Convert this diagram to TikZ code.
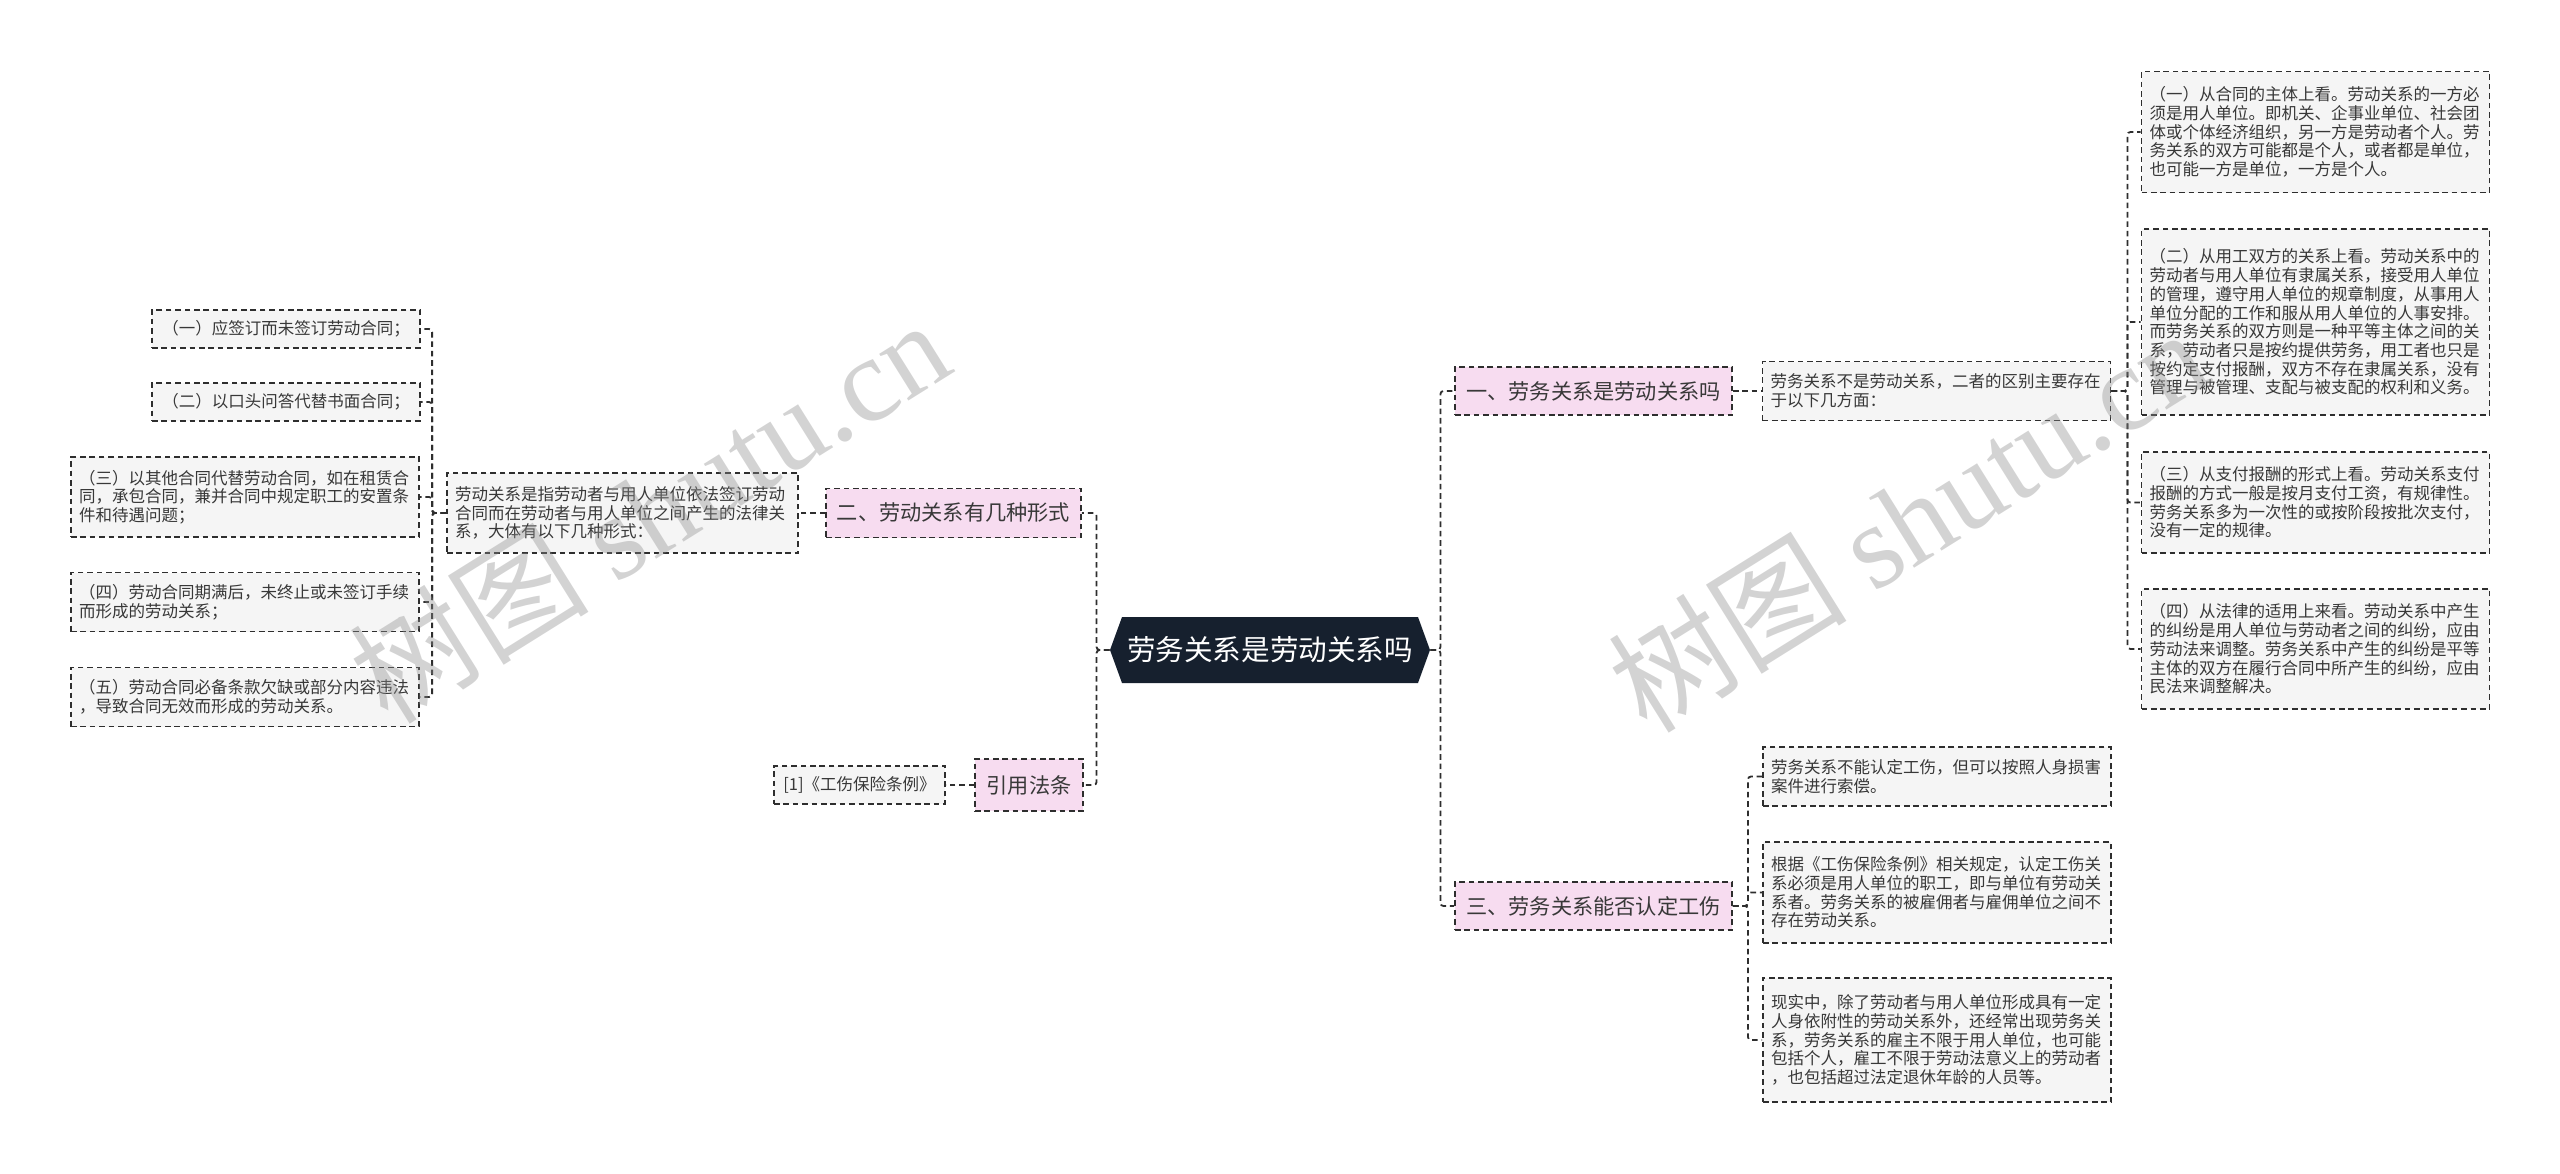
\documentclass[tikz,border=0pt]{standalone}
\usepackage{fontspec}
\setmainfont{Noto Sans CJK SC}
\newfontfamily\marklatin{Liberation Serif}
\usetikzlibrary{shapes.symbols}

\definecolor{rootnavy}{HTML}{16202E}
\definecolor{topicpink}{HTML}{F7DCF0}
\definecolor{leafgray}{HTML}{F5F5F5}
\definecolor{linegray}{HTML}{2E2E2E}
\definecolor{inkgray}{HTML}{383838}
\definecolor{markgray}{HTML}{8C8C8C}

\tikzset{
  dashbox/.style={draw=linegray, line width=0.9pt, dash pattern=on 2.8pt off 1.9pt},
  rootbox/.style={shape=signal, signal to=west and east, signal pointer angle=140, fill=rootnavy, text=white, font=\fontsize{14.3pt}{16pt}\selectfont, minimum width=160pt, minimum height=33pt, inner sep=0pt},
  topic/.style={dashbox, fill=topicpink, text=inkgray, font=\fontsize{10.6pt}{12pt}\selectfont, minimum height=24pt, inner sep=0pt},
  leaf/.style={dashbox, fill=leafgray, text=inkgray, font=\fontsize{8.25pt}{9.35pt}\selectfont, text width=166pt, align=left, inner xsep=4pt, inner ysep=0pt},
  smallleaf/.style={dashbox, fill=leafgray, text=inkgray, font=\fontsize{8.25pt}{9.35pt}\selectfont, minimum height=19pt, inner sep=0pt},
  mapline/.style={draw=linegray, line width=0.9pt, dash pattern=on 2.8pt off 1.9pt, rounded corners=1.5pt},
  watermark/.style={text=markgray, text opacity=0.38, font=\fontsize{60pt}{60pt}\selectfont, inner sep=0pt, rotate=32}
}

\begin{document}
\begin{tikzpicture}[x=0.5pt, y=-0.5pt]
\useasboundingbox (0,0) rectangle (2560,1173);

% root
\node[rootbox] (root) at (1270,650) {劳务关系是劳动关系吗};

% right side
\node[topic, minimum width=138.5pt] (sec1) at (1593.5,391) {一、劳务关系是劳动关系吗};
\node[topic, minimum width=138.5pt] (sec3) at (1593.5,906) {三、劳务关系能否认定工伤};
\node[leaf, minimum height=29.5pt] (diff) at (1936.5,391) {劳务关系不是劳动关系，二者的区别主要存在\\于以下几方面：};
\node[leaf, minimum height=60.5pt] (diff1) at (2315.5,132) {（一）从合同的主体上看。劳动关系的一方必\\须是用人单位。即机关、企事业单位、社会团\\体或个体经济组织，另一方是劳动者个人。劳\\务关系的双方可能都是个人，或者都是单位，\\也可能一方是单位，一方是个人。};
\node[leaf, minimum height=93pt] (diff2) at (2315.5,322) {（二）从用工双方的关系上看。劳动关系中的\\劳动者与用人单位有隶属关系，接受用人单位\\的管理，遵守用人单位的规章制度，从事用人\\单位分配的工作和服从用人单位的人事安排。\\而劳务关系的双方则是一种平等主体之间的关\\系，劳动者只是按约提供劳务，用工者也只是\\按约定支付报酬，双方不存在隶属关系，没有\\管理与被管理、支配与被支配的权利和义务。};
\node[leaf, minimum height=50.5pt] (diff3) at (2315.5,502.5) {（三）从支付报酬的形式上看。劳动关系支付\\报酬的方式一般是按月支付工资，有规律性。\\劳务关系多为一次性的或按阶段按批次支付，\\没有一定的规律。};
\node[leaf, minimum height=60pt] (diff4) at (2315.5,649) {（四）从法律的适用上来看。劳动关系中产生\\的纠纷是用人单位与劳动者之间的纠纷，应由\\劳动法来调整。劳务关系中产生的纠纷是平等\\主体的双方在履行合同中所产生的纠纷，应由\\民法来调整解决。};
\node[leaf, minimum height=29.5pt] (hurt1) at (1937,776.5) {劳务关系不能认定工伤，但可以按照人身损害\\案件进行索偿。};
\node[leaf, minimum height=50.5pt] (hurt2) at (1937,892.5) {根据《工伤保险条例》相关规定，认定工伤关\\系必须是用人单位的职工，即与单位有劳动关\\系者。劳务关系的被雇佣者与雇佣单位之间不\\存在劳动关系。};
\node[leaf, minimum height=62pt] (hurt3) at (1937,1040) {现实中，除了劳动者与用人单位形成具有一定\\人身依附性的劳动关系外，还经常出现劳务关\\系，劳务关系的雇主不限于用人单位，也可能\\包括个人，雇工不限于劳动法意义上的劳动者\\，也包括超过法定退休年龄的人员等。};

% left side
\node[topic, minimum width=127.5pt, minimum height=24.5pt] (sec2) at (953.5,513) {二、劳动关系有几种形式};
\node[topic, minimum width=54pt, minimum height=26pt] (law) at (1029,785) {引用法条};
\node[smallleaf, minimum width=85.5pt] (lawref) at (859.5,785) {[1]《工伤保险条例》};
\node[leaf, text width=167.5pt, minimum height=40pt] (form) at (622.5,513) {劳动关系是指劳动者与用人单位依法签订劳动\\合同而在劳动者与用人单位之间产生的法律关\\系，大体有以下几种形式：};
\node[smallleaf, minimum width=134pt] (form1) at (286,329) {（一）应签订而未签订劳动合同；};
\node[smallleaf, minimum width=134pt] (form2) at (286,402) {（二）以口头问答代替书面合同；};
\node[leaf, minimum height=40pt] (form3) at (245,497) {（三）以其他合同代替劳动合同，如在租赁合\\同，承包合同，兼并合同中规定职工的安置条\\件和待遇问题；};
\node[leaf, minimum height=29.5pt] (form4) at (245,602) {（四）劳动合同期满后，未终止或未签订手续\\而形成的劳动关系；};
\node[leaf, minimum height=29.5pt] (form5) at (245,697) {（五）劳动合同必备条款欠缺或部分内容违法\\，导致合同无效而形成的劳动关系。};

% connectors
\draw[mapline] (root.east) -- ++(10,0) |- (sec1.west);
\draw[mapline] (root.east) -- ++(10,0) |- (sec3.west);
\draw[mapline] (root.west) -- ++(-13,0) |- (sec2.east);
\draw[mapline] (root.west) -- ++(-13,0) |- (law.east);
\draw[mapline] (sec1.east) -- (diff.west);
\foreach \n in {diff1,diff2,diff3,diff4}
  \draw[mapline] (diff.east) -- ++(16,0) |- (\n.west);
\foreach \n in {hurt1,hurt2,hurt3}
  \draw[mapline] (sec3.east) -- ++(15,0) |- (\n.west);
\draw[mapline] (sec2.west) -- (form.east);
\foreach \n in {form1,form2,form3,form4,form5}
  \draw[mapline] (form.west) -- ++(-14,0) |- (\n.east);
\draw[mapline] (law.west) -- (lawref.east);

% watermarks, on top
\node[watermark] (mark1) at (649,510) {树图 {\marklatin shutu.cn}};
\node[watermark] (mark2) at (1907,519) {树图 {\marklatin shutu.cn}};
\end{tikzpicture}
\end{document}
